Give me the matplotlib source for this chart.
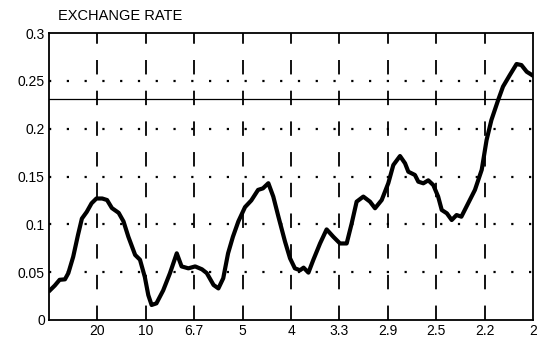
import numpy as np
import matplotlib
matplotlib.use("Agg")
import matplotlib.pyplot as plt

plt.rcParams['font.family'] = ['Liberation Sans', 'DejaVu Sans']

# -----------------------------
# datos
# -----------------------------
freq = [0.001, 0.006, 0.011, 0.0165, 0.020, 0.025, 0.030, 0.034, 0.039, 0.044,
        0.049, 0.055, 0.060, 0.065, 0.072, 0.077, 0.082, 0.089, 0.094, 0.099,
        0.1026, 0.106, 0.111, 0.118, 0.125, 0.132, 0.137, 0.144, 0.151, 0.158,
        0.163, 0.170, 0.175, 0.180, 0.185, 0.190, 0.1956, 0.2025, 0.209, 0.216,
        0.221, 0.2266, 0.2317, 0.237, 0.2438, 0.249, 0.254, 0.2593, 0.263, 0.268,
        0.273, 0.280, 0.2868, 0.2937, 0.3006, 0.3075, 0.3127, 0.3178, 0.3247, 0.3316,
        0.3368, 0.3437, 0.3505, 0.3557, 0.3626, 0.3678, 0.3712, 0.378, 0.3815, 0.3867,
        0.3918, 0.397, 0.402, 0.4057, 0.411, 0.416, 0.421, 0.426, 0.433, 0.440,
        0.447, 0.452, 0.457, 0.464, 0.469, 0.476, 0.483, 0.488, 0.4935, 0.499]
value = [0.031, 0.036, 0.042, 0.0425, 0.049, 0.066, 0.089, 0.106, 0.113, 0.122,
         0.127, 0.127, 0.1254, 0.117, 0.112, 0.103, 0.087, 0.068, 0.063, 0.045,
         0.026, 0.0157, 0.0174, 0.031, 0.049, 0.0697, 0.056, 0.054, 0.056, 0.053,
         0.049, 0.0366, 0.033, 0.0436, 0.0697, 0.087, 0.103, 0.118, 0.125, 0.136,
         0.1376, 0.143, 0.129, 0.108, 0.082, 0.0645, 0.054, 0.052, 0.0547, 0.0495,
         0.0627, 0.080, 0.0947, 0.087, 0.080, 0.080, 0.101, 0.1237, 0.129, 0.1237,
         0.1168, 0.1254, 0.143, 0.162, 0.1714, 0.1638, 0.155, 0.1516, 0.1446, 0.1429,
         0.146, 0.141, 0.129, 0.115, 0.1115, 0.1045, 0.1097, 0.108, 0.122, 0.136,
         0.157, 0.188, 0.209, 0.230, 0.244, 0.256, 0.2676, 0.2665, 0.2595, 0.256]
threshold = 0.231

xticks = [0.05, 0.10, 0.15, 0.20, 0.25, 0.30, 0.35, 0.40, 0.45, 0.50]
xlabels = ['20', '10', '6.7', '5', '4', '3.3', '2.9', '2.5', '2.2', '2']
yticks = [0, 0.05, 0.10, 0.15, 0.20, 0.25, 0.30]
ylabels = ['0', '0.05', '0.1', '0.15', '0.2', '0.25', '0.3']

# -----------------------------
# figura
# -----------------------------
fig = plt.figure(figsize=(5.37, 3.45), dpi=100)
ax = fig.add_axes([0.0912, 0.0725, 0.9014, 0.8318])

ax.set_xlim(0, 0.5)
ax.set_ylim(0, 0.3)

# rejilla: verticales discontinuas, horizontales punteadas
for xt in xticks[:-1]:
    ax.plot([xt, xt], [0, 0.3], color='black', lw=1.3,
            linestyle=(0, (8, 9)), zorder=1)
for yt in yticks[1:-1]:
    ax.plot([0, 0.5], [yt, yt], color='black', lw=1.6,
            linestyle=(0, (1, 7)), zorder=1)

ax.axhline(threshold, color='black', lw=0.9, zorder=2)
ax.plot(freq, value, color='black', lw=3, solid_joinstyle='round', zorder=3)

ax.set_xticks(xticks)
ax.set_xticklabels(xlabels, fontsize=10)
ax.set_yticks(yticks)
ax.set_yticklabels(ylabels, fontsize=10)
ax.tick_params(length=0, pad=3)

for s in ax.spines.values():
    s.set_linewidth(1.3)

fig.text(58 / 537, 1 - 16 / 345, 'EXCHANGE RATE', fontsize=10.5,
         ha='left', va='center')

fig.savefig('out.png', dpi=100)
